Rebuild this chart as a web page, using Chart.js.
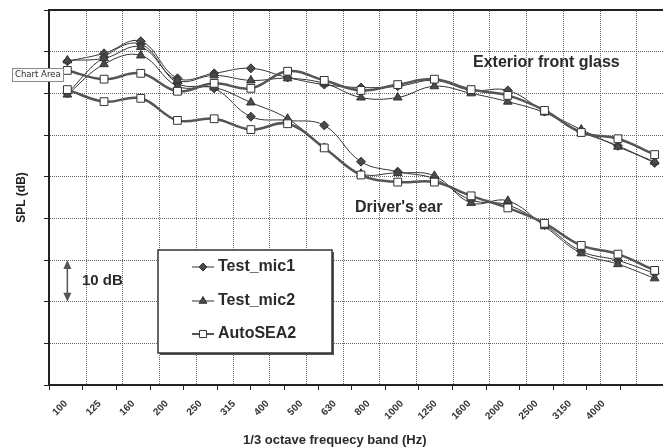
<!DOCTYPE html>
<html>
<head>
<meta charset="utf-8">
<script src="https://cdn.jsdelivr.net/npm/chart.js@4/dist/chart.umd.min.js"></script>
<style>
  html, body { margin: 0; padding: 0; background: #fff; overflow: hidden; }
  #wrap { width: 663px; height: 448px; overflow: hidden; position: relative; }
  canvas { display: block; }
</style>
</head>
<body>
<div id="wrap"><canvas id="chart" width="680" height="448"></canvas></div>
<script>
// 1/3 octave bands (x categories)
const bands = ['100', '125', '160', '200', '250', '315', '400', '500', '630', '800',
  '1000', '1250', '1600', '2000', '2500', '3150', '4000'];

// Exterior front glass (dB)
const extMic1 = [77.7, 79.6, 82.5, 73.6, 74.8, 76.0, 73.8, 72.1, 71.4, 71.7, 73.1, 70.7, 70.7, 65.6, 60.8, 57.4, 53.3];
const extMic2 = [77.9, 78.4, 81.1, 73.1, 74.3, 73.1, 73.6, 72.4, 69.0, 69.0, 71.7, 70.0, 68.0, 65.4, 61.3, 57.2, 53.6];
const extAuto = [75.5, 73.4, 74.8, 70.5, 72.4, 71.2, 75.3, 73.1, 70.7, 72.1, 73.4, 70.9, 69.5, 65.9, 60.6, 59.1, 55.3];

// Driver's ear (dB)
const drvMic1 = [70.0, 78.7, 81.8, 72.4, 71.2, 64.4, 63.5, 62.3, 53.6, 51.2, 49.5, 44.4, 43.2, 38.4, 32.1, 29.9, 26.8];
const drvMic2 = [69.7, 77.0, 79.1, 71.7, 71.4, 67.8, 63.9, 56.9, 50.7, 50.9, 50.2, 43.7, 44.2, 38.1, 31.6, 29.0, 25.6];
const drvAuto = [70.9, 68.0, 68.8, 63.5, 63.9, 61.3, 62.7, 56.9, 50.4, 48.7, 48.7, 45.4, 42.5, 38.8, 33.5, 31.4, 27.5];

const seriesNames = ['Test_mic1', 'Test_mic2', 'AutoSEA2'];

// marker / line style per series kind
const styles = {
  mic1: { pointStyle: 'rectRot', pointRadius: 4.5, backgroundColor: '#4a4a4a', pointBorderColor: '#333', borderColor: '#333', borderWidth: 1, order: 2 },
  mic2: { pointStyle: 'triangle', pointRadius: 5, backgroundColor: '#4a4a4a', pointBorderColor: '#333', borderColor: '#333', borderWidth: 1, order: 1 },
  auto: { pointStyle: 'rect', pointRadius: 5.5, backgroundColor: '#fff', pointBorderColor: '#333', borderColor: '#555', borderWidth: 2.5, order: 0 }
};

const makeSet = (label, data, kind) => Object.assign({
  label: label,
  data: data,
  xAxisID: 'x',
  tension: 0.4,
  pointBorderWidth: 1,
  pointBackgroundColor: styles[kind].backgroundColor,
  fill: false
}, styles[kind]);

const FONT = '"Liberation Sans", Arial, sans-serif';

// the band labels in the figure sit on a narrower strip than the plot
const labelStart = 66;   // px of first label
const labelStep = 33.6;  // px between labels

const gridColor = '#666';
const gridDash = [1, 1];

// band grid, text notes, 10 dB arrow, legend box, top frame
const notes = {
  id: 'notes',
  afterDraw(chart) {
    const { ctx, chartArea, scales: { x, y } } = chart;
    ctx.save();

    // dotted band boundaries
    const half = (x.getPixelForValue(1) - x.getPixelForValue(0)) / 2;
    ctx.fillStyle = gridColor;
    for (let i = 1; i <= bands.length; i++) {
      const px = Math.round(x.getPixelForValue(i - 1) + half);
      for (let py = Math.ceil(chartArea.top) + 1; py < chartArea.bottom - 1; py += 2) {
        ctx.fillRect(px, py, 1, 1);
      }
    }

    // top frame line
    ctx.strokeStyle = '#222';
    ctx.lineWidth = 2;
    ctx.beginPath();
    ctx.moveTo(chartArea.left, chartArea.top);
    ctx.lineTo(chartArea.right, chartArea.top);
    ctx.stroke();

    ctx.fillStyle = '#2a2a2a';
    ctx.textBaseline = 'middle';
    ctx.font = 'bold 16px ' + FONT;
    ctx.fillText('Exterior front glass', 473, 63);
    ctx.fillText("Driver's ear", 355, 208);

    // axis title under the label strip
    ctx.textAlign = 'center';
    ctx.font = 'bold 13px ' + FONT;
    ctx.fillText('1/3 octave frequecy band (Hz)', labelStart + labelStep * 8, 440);
    ctx.textAlign = 'left';

    // 10 dB arrow
    const ax = x.getPixelForValue(0);
    const yTop = y.getPixelForValue(30);
    const yBot = y.getPixelForValue(20);
    ctx.strokeStyle = '#555';
    ctx.lineWidth = 1.5;
    ctx.beginPath();
    ctx.moveTo(ax, yTop + 6);
    ctx.lineTo(ax, yBot - 6);
    ctx.stroke();
    ctx.fillStyle = '#555';
    ctx.beginPath();
    ctx.moveTo(ax, yTop); ctx.lineTo(ax - 4, yTop + 9); ctx.lineTo(ax + 4, yTop + 9);
    ctx.closePath(); ctx.fill();
    ctx.beginPath();
    ctx.moveTo(ax, yBot); ctx.lineTo(ax - 4, yBot - 9); ctx.lineTo(ax + 4, yBot - 9);
    ctx.closePath(); ctx.fill();
    ctx.fillStyle = '#2a2a2a';
    ctx.font = 'bold 15px ' + FONT;
    ctx.fillText('10 dB', 82, (yTop + yBot) / 2);

    // legend box
    const bx = 158, by = 250, bw = 174, bh = 103;
    ctx.fillStyle = '#555';
    ctx.fillRect(bx + 2, by + 2, bw, bh);
    ctx.fillStyle = '#fff';
    ctx.fillRect(bx, by, bw, bh);
    ctx.strokeStyle = '#333';
    ctx.lineWidth = 1.5;
    ctx.strokeRect(bx, by, bw, bh);

    const kinds = ['mic1', 'mic2', 'auto'];
    const rowsY = [267, 301, 334];
    kinds.forEach((k, i) => {
      const st = styles[k];
      const ly = rowsY[i];
      ctx.strokeStyle = st.borderColor;
      ctx.lineWidth = k === 'auto' ? 2 : 1;
      ctx.beginPath();
      ctx.moveTo(192, ly);
      ctx.lineTo(214, ly);
      ctx.stroke();
      ctx.fillStyle = st.backgroundColor;
      ctx.strokeStyle = st.pointBorderColor;
      ctx.lineWidth = 1;
      Chart.helpers.drawPoint(ctx, { pointStyle: st.pointStyle, radius: st.pointRadius - 0.5, borderWidth: 1 }, 203, ly);
      ctx.fillStyle = '#2a2a2a';
      ctx.font = 'bold 16px ' + FONT;
      ctx.fillText(seriesNames[i], 218, ly);
    });

    // Excel hover tip left in the screenshot
    ctx.fillStyle = '#fbfbfb';
    ctx.fillRect(12, 68, 51, 13);
    ctx.strokeStyle = '#8a8a8a';
    ctx.lineWidth = 1;
    ctx.strokeRect(12.5, 68.5, 51, 13);
    ctx.fillStyle = '#333';
    ctx.font = '8.5px "DejaVu Sans", sans-serif';
    ctx.fillText('Chart Area', 15, 75);
    ctx.restore();
  }
};

new Chart(document.getElementById('chart').getContext('2d'), {
  type: 'line',
  data: {
    labels: bands,
    datasets: [
      makeSet(seriesNames[0], extMic1, 'mic1'),
      makeSet(seriesNames[1], extMic2, 'mic2'),
      makeSet(seriesNames[2], extAuto, 'auto'),
      makeSet(seriesNames[0], drvMic1, 'mic1'),
      makeSet(seriesNames[1], drvMic2, 'mic2'),
      makeSet(seriesNames[2], drvAuto, 'auto')
    ]
  },
  options: {
    responsive: false,
    animation: false,
    devicePixelRatio: 1,
    layout: { padding: { top: 10, right: 7, bottom: 0, left: 0 } },
    plugins: {
      legend: { display: false },
      tooltip: { enabled: false }
    },
    scales: {
      // data axis: band positions, line along the bottom
      x: {
        type: 'category',
        position: 'bottom',
        offset: true,
        grid: { display: false },
        border: { display: true, color: '#222', width: 2 },
        ticks: { display: false },
        afterFit: (scale) => { scale.height = 0; }
      },
      // label strip under the plot
      xl: {
        type: 'linear',
        position: 'bottom',
        min: -(labelStart - 49) / labelStep,
        max: -(labelStart - 49) / labelStep + 624 / labelStep,
        afterBuildTicks: (axis) => { axis.ticks = bands.map((b, i) => ({ value: i })); },
        grid: {
          offset: true,
          drawOnChartArea: false,
          drawTicks: true,
          tickLength: 5,
          tickColor: '#222',
          color: '#222'
        },
        border: { display: false },
        ticks: {
          autoSkip: false,
          minRotation: 45,
          maxRotation: 45,
          padding: 8,
          color: '#333',
          font: { family: FONT, size: 10, weight: 'bold' },
          callback: (v) => bands[v]
        },
        afterFit: (scale) => { scale.height = 63; }
      },
      y: {
        min: 0,
        max: 90,
        grid: {
          color: gridColor,
          lineWidth: 1,
          drawTicks: true,
          tickLength: 5,
          tickColor: '#222'
        },
        border: { display: true, color: '#222', width: 2, dash: gridDash },
        ticks: { display: false, stepSize: 10 },
        title: {
          display: true,
          text: 'SPL (dB)',
          color: '#222',
          font: { family: FONT, size: 12, weight: 'bold' },
          padding: { top: 14, bottom: 0 }
        },
        afterFit: (scale) => { scale.width = 49; }
      }
    }
  },
  plugins: [notes]
});
</script>
</body>
</html>
